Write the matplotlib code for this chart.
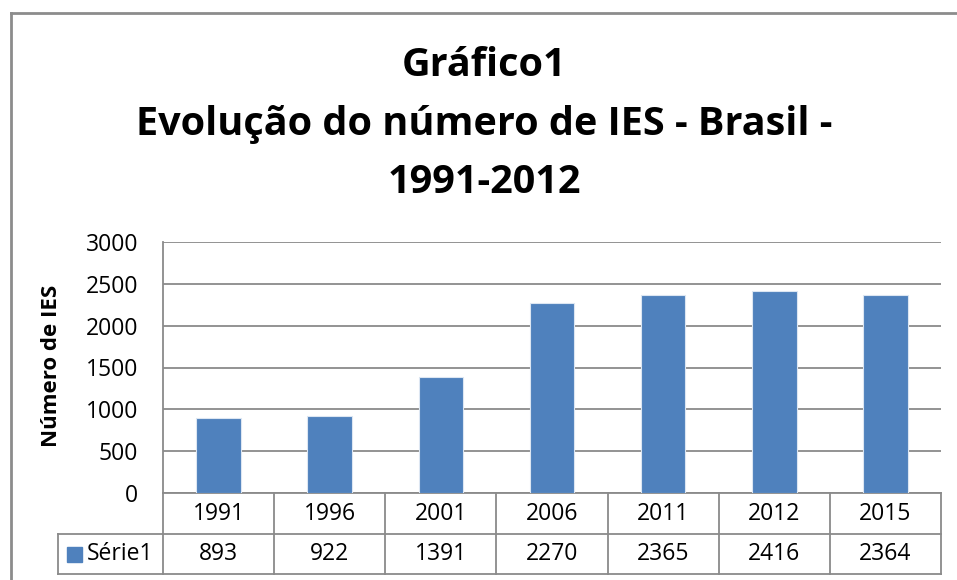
import matplotlib
matplotlib.use("Agg")
import matplotlib.pyplot as plt
from matplotlib.patches import Rectangle
import matplotlib.transforms as mtransforms

plt.rcParams['font.family'] = ['Open Sans', 'DejaVu Sans']

categories = ["1991", "1996", "2001", "2006", "2011", "2012", "2015"]
values = [893, 922, 1391, 2270, 2365, 2416, 2364]
series_name = "Série1"
title_lines = ["Gráfico1", "Evolução do número de IES - Brasil -", "1991-2012"]
ylabel = "Número de IES"
yticks = [0, 500, 1000, 1500, 2000, 2500, 3000]

W, H = 957, 580
fig = plt.figure(figsize=(W / 100, H / 100), dpi=100)

# outer chart frame
fig.add_artist(plt.Line2D([11 / W, 11 / W], [0, 1 - 13 / H], color="#8c8c8c", lw=2))
fig.add_artist(plt.Line2D([11 / W, 1], [1 - 13 / H, 1 - 13 / H], color="#8c8c8c", lw=2))

ax_l, ax_r, ax_t, ax_b = 163, 941, 242, 493
ax = fig.add_axes([ax_l / W, 1 - ax_b / H, (ax_r - ax_l) / W, (ax_b - ax_t) / H])

bar_color = "#4F81BD"
grid_color = "#8a8a8a"
fs = 16.5
x = list(range(len(categories)))
ax.bar(x, values, width=0.4, color=bar_color, edgecolor="#dce6f2", linewidth=0.8, zorder=3)
ax.set_xlim(-0.5, len(categories) - 0.5)
ax.set_ylim(0, 3000)
ax.set_yticks(yticks)
ax.set_yticklabels([str(v) for v in yticks], fontsize=fs)
ax.tick_params(axis="y", length=0, pad=18)
ax.set_xticks([])
ax.grid(axis="y", color=grid_color, lw=1.3, zorder=0)
for s in ["top", "right", "bottom"]:
    ax.spines[s].set_visible(False)
ax.spines["left"].set_color(grid_color)
ax.spines["left"].set_linewidth(1.3)
ax.set_ylabel(ylabel, fontsize=16, fontweight="bold")
ax.yaxis.set_label_coords((62 - ax_l) / (ax_r - ax_l), (ax_b - 366) / (ax_b - ax_t))

# data table
trans = mtransforms.blended_transform_factory(ax.transData, ax.transAxes)
h_ax = ax_b - ax_t
r1 = -41 / h_ax
r2 = -81 / h_ax
legend_left = -0.5 - (ax_l - 58) / ((ax_r - ax_l) / len(categories))
n = len(categories)
lw_t = 1.3
def line(xs, ys):
    ax.add_line(plt.Line2D(xs, ys, transform=trans, color=grid_color, lw=lw_t, clip_on=False))

line([-0.5, n - 0.5], [0, 0])
line([legend_left, n - 0.5], [r1, r1])
line([legend_left, n - 0.5], [r2, r2])
line([legend_left, legend_left], [r1, r2])
for i in range(n + 1):
    line([i - 0.5, i - 0.5], [0, r2])
for i, (c, v) in enumerate(zip(categories, values)):
    ax.text(i, r1 / 2, c, transform=trans, ha="center", va="center", fontsize=fs, clip_on=False)
    ax.text(i, (r1 + r2) / 2, str(v), transform=trans, ha="center", va="center", fontsize=fs, clip_on=False)

# legend key in table
fig.add_artist(Rectangle((67 / W, 1 - 562 / H), 15 / W, 15 / H, color=bar_color))
fig.text(87 / W, 1 - 554 / H, series_name, ha="left", va="center", fontsize=fs)

# title
ys = [66, 124, 182]
for t, yy in zip(title_lines, ys):
    fig.text(484 / W, 1 - yy / H, t, ha="center", va="center", fontsize=28.5, fontweight="bold")

fig.savefig("out.png", dpi=100)
